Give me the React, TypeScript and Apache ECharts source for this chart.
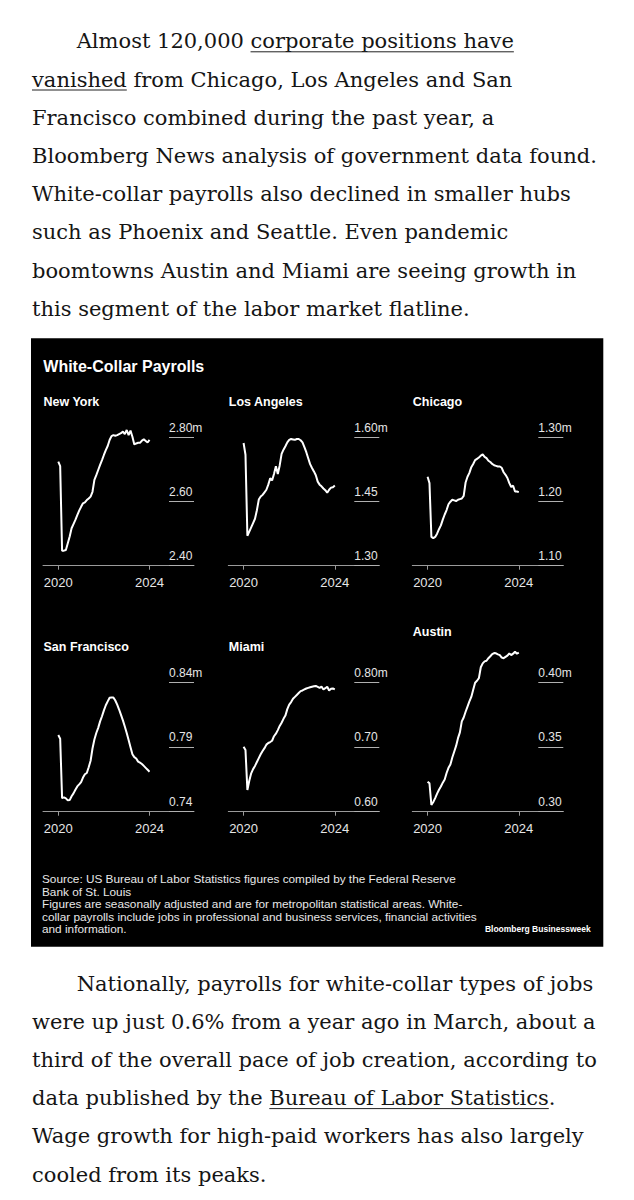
import React, { useEffect, useRef } from "react";
import * as echarts from "echarts";

// ---------- DATA (monthly, Jan 2020 to Jan 2024, millions of jobs) ----------
const startYear = 2020;
const cityNames = ["New York", "Los Angeles", "Chicago", "San Francisco", "Miami", "Austin"];

const newYork = [2.725, 2.711, 2.447, 2.447, 2.449, 2.470, 2.491, 2.517, 2.530, 2.543,
  2.558, 2.572, 2.584, 2.595, 2.598, 2.605, 2.610, 2.616, 2.631, 2.668,
  2.683, 2.699, 2.715, 2.730, 2.746, 2.761, 2.774, 2.793, 2.805, 2.808,
  2.806, 2.808, 2.811, 2.814, 2.819, 2.811, 2.824, 2.808, 2.822, 2.803,
  2.779, 2.782, 2.784, 2.784, 2.791, 2.795, 2.790, 2.785, 2.793];
const losAngeles = [1.5875, 1.560, 1.370, 1.380, 1.390, 1.400, 1.410, 1.430, 1.455, 1.462,
  1.466, 1.472, 1.478, 1.490, 1.505, 1.500, 1.515, 1.533, 1.515, 1.535,
  1.562, 1.572, 1.580, 1.589, 1.595, 1.597, 1.596, 1.595, 1.597, 1.597,
  1.594, 1.589, 1.578, 1.566, 1.552, 1.538, 1.529, 1.521, 1.512, 1.497,
  1.490, 1.486, 1.481, 1.477, 1.471, 1.478, 1.483, 1.484, 1.488];
const chicago = [1.239, 1.229, 1.145, 1.143, 1.145, 1.150, 1.157, 1.163, 1.172, 1.180,
  1.187, 1.196, 1.200, 1.203, 1.202, 1.201, 1.203, 1.204, 1.205, 1.209,
  1.230, 1.239, 1.245, 1.254, 1.259, 1.265, 1.267, 1.269, 1.272, 1.274,
  1.270, 1.268, 1.264, 1.262, 1.259, 1.257, 1.256, 1.255, 1.255, 1.253,
  1.246, 1.242, 1.237, 1.229, 1.223, 1.225, 1.216, 1.216, 1.215];
const sanFrancisco = [0.7994, 0.7966, 0.7505, 0.7511, 0.7503, 0.7488, 0.7490, 0.7520, 0.7542, 0.7570,
  0.7596, 0.7612, 0.7630, 0.7665, 0.7690, 0.7700, 0.7745, 0.7795, 0.7890, 0.7960,
  0.8010, 0.8050, 0.8100, 0.8140, 0.8185, 0.8225, 0.8255, 0.8283, 0.8286, 0.8286,
  0.8262, 0.8230, 0.8192, 0.8150, 0.8108, 0.8060, 0.8010, 0.7955, 0.7900, 0.7845,
  0.7823, 0.7812, 0.7788, 0.7780, 0.7770, 0.7755, 0.7740, 0.7725, 0.7710];
const miami = [0.7008, 0.6956, 0.6336, 0.6480, 0.6595, 0.6660, 0.6710, 0.6770, 0.6830, 0.6890,
  0.6940, 0.6985, 0.7040, 0.7065, 0.7080, 0.7100, 0.7170, 0.7210, 0.7265, 0.7330,
  0.7380, 0.7440, 0.7490, 0.7590, 0.7660, 0.7700, 0.7750, 0.7780, 0.7810, 0.7840,
  0.7870, 0.7880, 0.7895, 0.7910, 0.7920, 0.7930, 0.7938, 0.7945, 0.7950, 0.7935,
  0.7920, 0.7940, 0.7895, 0.7915, 0.7938, 0.7880, 0.7905, 0.7910, 0.7897];
const austin = [0.3233, 0.3220, 0.3052, 0.3075, 0.3105, 0.3140, 0.3170, 0.3195, 0.3225, 0.3250,
  0.3300, 0.3340, 0.3365, 0.3420, 0.3465, 0.3510, 0.3570, 0.3615, 0.3700, 0.3730,
  0.3775, 0.3815, 0.3855, 0.3890, 0.3945, 0.4000, 0.4015, 0.4035, 0.4120, 0.4150,
  0.4165, 0.4170, 0.4190, 0.4205, 0.4222, 0.4230, 0.4228, 0.4220, 0.4214, 0.4195,
  0.4190, 0.4200, 0.4210, 0.4227, 0.4214, 0.4225, 0.4240, 0.4225, 0.4233];

const nyTicks = [2.4, 2.6, 2.8];
const laTicks = [1.3, 1.45, 1.6];
const chiTicks = [1.1, 1.2, 1.3];
const sfTicks = [0.74, 0.79, 0.84];
const miaTicks = [0.6, 0.7, 0.8];
const ausTicks = [0.3, 0.35, 0.4];
const xTickYears = [2020, 2024];

const chartTitle = "White-Collar Payrolls";
const footnoteLines = [
  "Source: US Bureau of Labor Statistics figures compiled by the Federal Reserve",
  "Bank of St. Louis",
  "Figures are seasonally adjusted and are for metropolitan statistical areas. White-",
  "collar payrolls include jobs in professional and business services, financial activities",
  "and information.",
];
const credit = "Bloomberg Businessweek";

const bodyTop = [
  "Almost 120,000 corporate positions have",
  "vanished from Chicago, Los Angeles and San",
  "Francisco combined during the past year, a",
  "Bloomberg News analysis of government data found.",
  "White-collar payrolls also declined in smaller hubs",
  "such as Phoenix and Seattle. Even pandemic",
  "boomtowns Austin and Miami are seeing growth in",
  "this segment of the labor market flatline.",
];
const bodyBottom = [
  "Nationally, payrolls for white-collar types of jobs",
  "were up just 0.6% from a year ago in March, about a",
  "third of the overall pace of job creation, according to",
  "data published by the Bureau of Labor Statistics.",
  "Wage growth for high-paid workers has also largely",
  "cooled from its peaks.",
];
// [paragraph, line, linked phrase]
const links: [string, number, string][] = [
  ["top", 0, "corporate positions have"],
  ["top", 1, "vanished"],
  ["bottom", 3, "Bureau of Labor Statistics"],
];

// ---------- LAYOUT ----------
const SANS = '"Liberation Sans", Arial, Helvetica, sans-serif';
const SERIF = '"DejaVu Serif", serif';
const colLeft = [43, 228.3, 412.3];
const gridWidth = 151;
const axisY = [565.7, 811.7];
const topTickY = [437.7, 682.7];
const gridTop = [410, 640];
const cityTitleY = [401.7, 401.7, 401.7, 647.3, 647.3, 631.7];
const xMin = 2019.33;
const xMax = 2025.95;

export default function App() {
  const ref = useRef<HTMLDivElement>(null);

  useEffect(() => {
    if (!ref.current) return;
    const chart = echarts.init(ref.current, null, { renderer: "svg" });
    const canvas = document.createElement("canvas");
    const ctx = canvas.getContext("2d")!;
    const measure = (t: string, font: string) => {
      ctx.font = font;
      return ctx.measureText(t).width;
    };

    const seriesValues = [newYork, losAngeles, chicago, sanFrancisco, miami, austin];
    const tickSets = [nyTicks, laTicks, chiTicks, sfTicks, miaTicks, ausTicks];

    const grids: any[] = [];
    const xAxes: any[] = [];
    const yAxes: any[] = [];
    const series: any[] = [];
    const graphics: any[] = [];

    // black panel
    graphics.push({
      type: "rect",
      z: -10,
      shape: { x: 31, y: 338.3, width: 572.3, height: 608.4 },
      style: { fill: "#000" },
    });
    graphics.push({
      type: "text",
      x: 43.3,
      y: 366,
      style: {
        text: chartTitle,
        font: `bold 16px ${SANS}`,
        fill: "#fff",
        textAlign: "left",
        textVerticalAlign: "middle",
      },
    });

    seriesValues.forEach((vals, i) => {
      const col = i % 3;
      const row = Math.floor(i / 3);
      const ticks = tickSets[i];
      const h = axisY[row] - gridTop[row];
      const yMax = ticks[0] + (ticks[2] - ticks[0]) * h / (axisY[row] - topTickY[row]);
      grids.push({ left: colLeft[col], top: gridTop[row], width: gridWidth, height: h, containLabel: false });
      xAxes.push({
        type: "value",
        gridIndex: i,
        min: xMin,
        max: xMax,
        axisLine: { show: true, lineStyle: { color: "#9a9a9a", width: 1 } },
        axisTick: { show: true, length: 4, customValues: xTickYears, lineStyle: { color: "#9a9a9a" } },
        axisLabel: {
          show: true,
          customValues: xTickYears,
          formatter: (v: number) => String(Math.round(v)),
          color: "#e6e6e6",
          fontSize: 13,
          fontFamily: SANS,
          margin: 10,
        },
        splitLine: { show: false },
      });
      yAxes.push({
        type: "value",
        gridIndex: i,
        position: "right",
        min: ticks[0],
        max: yMax,
        axisLine: { show: false },
        axisTick: {
          show: true,
          inside: true,
          length: 25,
          customValues: ticks,
          lineStyle: { color: "#b0b0b0", width: 1 },
        },
        axisLabel: {
          show: true,
          inside: true,
          customValues: ticks,
          align: "left",
          verticalAlign: "bottom",
          margin: 25,
          padding: [0, 0, 4, 0],
          color: "#e6e6e6",
          fontSize: 12,
          fontFamily: SANS,
          formatter: (v: number) =>
            Math.abs(v - ticks[2]) < 1e-9 ? v.toFixed(2) + "m" : v.toFixed(2),
        },
        splitLine: { show: false },
      });
      series.push({
        type: "line",
        name: cityNames[i],
        xAxisIndex: i,
        yAxisIndex: i,
        data: vals.map((v, k) => [startYear + k / 12, v]),
        showSymbol: false,
        symbol: "none",
        clip: false,
        silent: true,
        lineStyle: { color: "#ffffff", width: 2 },
      });
      graphics.push({
        type: "text",
        x: colLeft[col] + 0.5,
        y: cityTitleY[i],
        style: {
          text: cityNames[i],
          font: `bold 12.5px ${SANS}`,
          fill: "#fff",
          textAlign: "left",
          textVerticalAlign: "middle",
        },
      });
    });

    // footnote
    const footFont = `11.8px ${SANS}`;
    footnoteLines.forEach((t, k) => {
      graphics.push({
        type: "text",
        x: 42,
        y: 879 + k * 12.6,
        style: { text: t, font: footFont, fill: "#e8e8e8", textAlign: "left", textVerticalAlign: "middle" },
      });
    });
    graphics.push({
      type: "text",
      x: 590.7,
      y: 929.3,
      style: { text: credit, font: `bold 8.5px ${SANS}`, fill: "#fff", textAlign: "right", textVerticalAlign: "middle" },
    });

    // body text
    const bodyFont = `21px ${SERIF}`;
    const addPara = (lines: string[], name: string, firstBaseline: number) => {
      lines.forEach((t, k) => {
        const x = k === 0 ? 76.7 : 32;
        const baseline = firstBaseline + k * 38.2;
        graphics.push({
          type: "text",
          x,
          y: baseline - 7,
          style: { text: t, font: bodyFont, fill: "#151515", textAlign: "left", textVerticalAlign: "middle" },
        });
        links.forEach(([p, li, phrase]) => {
          if (p !== name || li !== k) return;
          const idx = t.indexOf(phrase);
          const x1 = x + measure(t.slice(0, idx), bodyFont);
          const x2 = x1 + measure(phrase, bodyFont);
          graphics.push({
            type: "line",
            shape: { x1, y1: baseline + 3.5, x2, y2: baseline + 3.5 },
            style: { stroke: "#222", lineWidth: 1 },
          });
        });
      });
    };
    addPara(bodyTop, "top", 48.3);
    addPara(bodyBottom, "bottom", 990.5);

    chart.setOption({
      animation: false,
      backgroundColor: "#fff",
      textStyle: { fontFamily: SANS },
      grid: grids,
      xAxis: xAxes,
      yAxis: yAxes,
      series,
      graphic: { elements: graphics },
    });

    return () => chart.dispose();
  }, []);

  return (
    <div
      ref={ref}
      style={{ position: "absolute", left: 0, top: 0, width: 634, height: 1200, background: "#fff" }}
    />
  );
}
